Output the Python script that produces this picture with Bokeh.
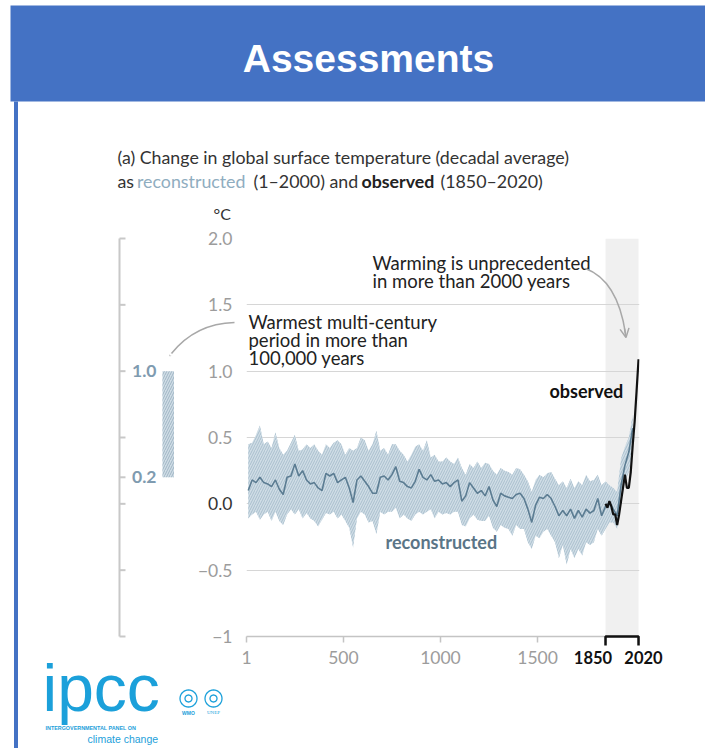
import math
from bokeh.plotting import figure
from bokeh.models import Range1d, FixedTicker, Arrow, OpenHead
from bokeh.core.properties import value
from bokeh.embed import file_html
from bokeh.resources import INLINE

# ---------------- data ----------------
recon_years = list(range(10, 1991, 20))
recon_median = [
    0.10, 0.18, 0.16, 0.20, 0.16, 0.15, 0.13, 0.18, 0.11, 0.07, 0.20, 0.21, 0.30, 0.21, 0.25, 0.18, 0.15,
    0.16, 0.12, 0.10, 0.23, 0.21, 0.23, 0.16, 0.18, 0.20, 0.12, 0.01, 0.18, 0.21, 0.17, 0.13, 0.08,
    0.08, 0.20, 0.21, 0.18, 0.22, 0.28, 0.17, 0.16, 0.13, 0.12, 0.17, 0.26, 0.20, 0.18, 0.22, 0.17, 0.18,
    0.15, 0.16, 0.13, 0.16, 0.18, 0.02, 0.06, 0.16, 0.12, 0.08, 0.10, 0.06, 0.13, 0.03, -0.02, 0.08,
    0.06,
    0.05, 0.04, 0.07, 0.08, 0.04, -0.04, -0.14, -0.01, 0.05, 0.04, 0.07, 0.04, -0.02, -0.09, -0.05, -0.09,
    -0.04, -0.11, -0.05, -0.10, -0.04, -0.07, -0.05, 0.04, -0.09, -0.02, 0.01, -0.04, -0.09, 0.14, 0.29,
    0.39, 0.57,
]
recon_high = [
    0.45, 0.46, 0.52, 0.59, 0.45, 0.47, 0.42, 0.54, 0.42, 0.37, 0.40, 0.46, 0.52, 0.40, 0.41, 0.45, 0.42,
    0.45, 0.40, 0.37, 0.45, 0.42, 0.46, 0.48, 0.45, 0.37, 0.42, 0.40, 0.42, 0.50, 0.48, 0.40, 0.45,
    0.55, 0.40, 0.42, 0.37, 0.45, 0.45, 0.40, 0.37, 0.32, 0.37, 0.43, 0.45, 0.40, 0.48, 0.35, 0.37, 0.32,
    0.32, 0.35, 0.32, 0.30, 0.35, 0.27, 0.22, 0.30, 0.27, 0.32, 0.27, 0.31, 0.30, 0.25, 0.22, 0.27,
    0.25,
    0.24, 0.22, 0.27, 0.26, 0.22, 0.17, 0.09, 0.18, 0.22, 0.20, 0.23, 0.24, 0.19, 0.14, 0.17, 0.12,
    0.19, 0.12, 0.17, 0.14, 0.22, 0.17, 0.18, 0.22, 0.14, 0.17, 0.14, 0.12, 0.09, 0.34, 0.43, 0.50, 0.67,
]
recon_low = [
    -0.11, -0.08, -0.06, -0.12, -0.08, -0.06, -0.13, -0.06, -0.13, -0.16, -0.08, -0.04, -0.08, -0.04,
    -0.11, -0.07, -0.11, -0.13, -0.17, -0.12, -0.07, -0.08, -0.06, -0.11, -0.08, -0.13, -0.18, -0.33,
    -0.11, -0.06, -0.08, -0.14, -0.13,
    -0.23, -0.06, -0.08, -0.06, -0.06, -0.03, -0.11, -0.08, -0.11, -0.13, -0.08, -0.06, -0.08, -0.06,
    -0.04, -0.11, -0.06, -0.08, -0.07, -0.08, -0.06, -0.06, -0.16, -0.17, -0.11, -0.08, -0.12, -0.13,
    -0.13, -0.09, -0.18, -0.21, -0.16,
    -0.18,
    -0.19, -0.24, -0.16, -0.19, -0.19, -0.29, -0.34, -0.24, -0.26, -0.21, -0.19, -0.24, -0.29, -0.41,
    -0.31, -0.46, -0.34, -0.41, -0.34, -0.39, -0.29, -0.31, -0.29, -0.19, -0.24, -0.19, -0.14, -0.14,
    -0.19, 0.02, 0.17, 0.24, 0.39,
]
obs_years = [1850, 1860, 1870, 1880, 1890, 1900, 1910, 1920, 1930, 1940, 1950, 1960, 1970, 1980, 1990,
             2000, 2010, 2020]
obs_values = [0.00, -0.03, 0.02, -0.02, -0.08, -0.08, -0.16, -0.08, 0.02, 0.12, 0.22, 0.12, 0.12, 0.24,
              0.44, 0.62, 0.85, 1.09]

y_ticks = [-1, -0.5, 0, 0.5, 1, 1.5, 2]
y_tick_labels = ["\u22121", "\u22120.5", "0.0", "0.5", "1.0", "1.5", "2.0"]
x_ticks = [1, 500, 1000, 1500, 1850, 2020]
x_tick_labels = ["1", "500", "1000", "1500", "1850", "2020"]
observed_period = [1850, 2020]
warmest_period = [0.2, 1.0]
side_ticks = [2, 1.5, 1, 0.5, 0.2, 0, -0.5, -1]

# ---------------- figure ----------------
W, H = 705, 748
FL, FT = 246, 238
fw, fh = 393, 398
FR, FB = W - FL - fw, H - FT - fh
XMIN, XMAX, YMIN, YMAX = 1, 2025, -1, 2
p = figure(width=W, height=H, x_range=Range1d(XMIN, XMAX), y_range=Range1d(YMIN, YMAX),
           output_backend="svg", toolbar_location=None,
           min_border_left=FL, min_border_right=FR, min_border_top=FT, min_border_bottom=FB)
p.outline_line_color = None
p.background_fill_color = "white"
p.border_fill_color = "white"


def X(px):  # canvas pixel -> data x
    return XMIN + (px - FL) * (XMAX - XMIN) / fw


def Y(py):  # canvas pixel -> data y
    return YMIN + (FT + fh - py) * (YMAX - YMIN) / fh


def txt(x, y, s, size, color, font="Lato", style="normal", align="left", baseline="middle"):
    p.text(x=[x], y=[y], text=[s], text_font=value(font), text_font_size=f"{size}px",
           text_color=color, text_font_style=style, text_align=align, text_baseline=baseline,
           level="overlay")


# grid / axes
p.xgrid.visible = False
p.ygrid.ticker = FixedTicker(ticks=y_ticks)
p.ygrid.grid_line_color = "#d6d6d6"
p.ygrid.grid_line_width = 1.2

ya = p.yaxis[0]
ya.ticker = FixedTicker(ticks=y_ticks)
ya.major_label_overrides = {float(t): (l if l != "0.0" else "") for t, l in zip(y_ticks, y_tick_labels)}
ya.axis_line_color = None
ya.major_tick_line_color = None
ya.minor_tick_line_color = None
ya.major_tick_out = 0
ya.major_tick_in = 0
ya.major_label_standoff = 14
ya.major_label_text_font = "Lato"
ya.major_label_text_font_size = "17.5px"
ya.major_label_text_color = "#9c9c9c"

xa = p.xaxis[0]
xa.ticker = FixedTicker(ticks=x_ticks)
xa.major_label_overrides = {float(t): (l if t not in observed_period else "") for t, l in zip(x_ticks, x_tick_labels)}
xa.axis_line_color = "#c4c4c4"
xa.axis_line_width = 1.5
xa.major_tick_line_color = "#c4c4c4"
xa.major_tick_line_width = 1.5
xa.minor_tick_line_color = None
xa.major_tick_out = 6
xa.major_tick_in = 0
xa.major_label_standoff = 8
xa.major_label_text_font = "Lato"
xa.major_label_text_font_size = "17.5px"
xa.major_label_text_color = "#9c9c9c"

# observed-period shading
p.quad(left=[observed_period[0]], right=[observed_period[1]], bottom=[YMIN], top=[YMAX],
       fill_color="#f0f0f0", line_color=None, level="image")

# reconstructed band + median
p.varea(x=recon_years, y1=recon_low, y2=recon_high, fill_color="#d0dde6",
        hatch_pattern="/", hatch_color="#a9bfcd", hatch_scale=5, hatch_weight=1)
p.line(recon_years, recon_median, line_color="#5b7c92", line_width=1.6)
# observed
p.line(obs_years, obs_values, line_color="#111111", line_width=2.2)

# bracket below 1850-2020
p.line([observed_period[0], observed_period[0], observed_period[1], observed_period[1]],
       [Y(645), YMIN, YMIN, Y(645)], line_color="#111111", line_width=2.5, level="overlay")
txt(X(592.5), Y(657), x_tick_labels[x_ticks.index(observed_period[0])], 16.5, "#111111", style="bold", align="center")
txt(X(643), Y(657), x_tick_labels[x_ticks.index(observed_period[1])], 16.5, "#111111", style="bold", align="center")
txt(X(232), 0, "0.0", 17.5, "#333333", align="right")

# ---- header ----
p.quad(left=[X(10)], right=[X(720)], top=[Y(5)], bottom=[Y(101)], fill_color="#4472c4",
       line_color=None, level="overlay")
p.quad(left=[X(13.5)], right=[X(17.5)], top=[Y(101)], bottom=[Y(760)], fill_color="#4472c4",
       line_color=None, level="overlay")
txt(X(368), Y(57.5), "Assessments", 39, "white", font="Liberation Sans", style="bold", align="center")

# subtitle
fs = 17.8
txt(X(117), Y(156), "(a) Change in global surface temperature (decadal average)", fs, "#333333")
txt(X(117), Y(180), "as", fs, "#333333")
txt(X(136.5), Y(180), "reconstructed", fs, "#8fadc0")
txt(X(253), Y(180), "(1\u20132000) and", fs, "#333333")
txt(X(361), Y(180), "observed", fs, "#222222", style="bold")
txt(X(440), Y(180), "(1850\u20132020)", fs, "#333333")
txt(X(213), Y(213), "\u00b0C", 16, "#333333")

# side scale
p.line([X(119), X(119)], [side_ticks[-1], side_ticks[0]], line_color="#c8c8c8", line_width=2, level="overlay")
p.segment(x0=[X(119)] * len(side_ticks), y0=side_ticks, x1=[X(125)] * len(side_ticks), y1=side_ticks,
          line_color="#c8c8c8", line_width=2, level="overlay")
p.quad(left=[X(162)], right=[X(173.5)], bottom=[warmest_period[0]], top=[warmest_period[1]],
       fill_color="#d0dde6", line_color=None, hatch_pattern="/", hatch_color="#9fb5c4",
       hatch_scale=5, hatch_weight=1, level="overlay")
for v in warmest_period:
    txt(X(156), v, f"{v:.1f}", 17.5, "#7f9bb0", style="bold", align="right")

# annotations
for i, s in enumerate(["Warmest multi-century", "period in more than", "100,000 years"]):
    txt(X(248), Y(321 + 18 * i), s, 18.5, "#222222")
for i, s in enumerate(["Warming is unprecedented", "in more than 2000 years"]):
    txt(X(372), Y(262 + 18 * i), s, 18.5, "#222222")
txt(X(385), Y(541), "reconstructed", 18, "#5a7587", style="bold")
txt(X(549), Y(390), "observed", 18, "#111111", style="bold")

ac = "#a8a8a8"
p.quadratic(x0=[X(234)], y0=[Y(322)], x1=[X(171)], y1=[Y(353)], cx=[X(195)], cy=[Y(323)],
            line_color=ac, line_width=1.5, level="overlay")
p.add_layout(Arrow(end=OpenHead(size=9, line_color=ac, line_width=1.5), line_color=ac, line_width=1.5,
                   x_start=X(175), y_start=Y(348.5), x_end=X(169), y_end=Y(355.5)))
p.quadratic(x0=[X(585)], y0=[Y(268)], x1=[X(625)], y1=[Y(333)], cx=[X(617)], cy=[Y(280)],
            line_color=ac, line_width=1.5, level="overlay")
p.add_layout(Arrow(end=OpenHead(size=9, line_color=ac, line_width=1.5), line_color=ac, line_width=1.5,
                   x_start=X(624), y_start=Y(328), x_end=X(625.5), y_end=Y(337)))

# logo
lc = "#1ba0da"
txt(X(42), Y(687), "ipcc", 66, lc, font="Liberation Sans")
txt(X(45), Y(727.5), "INTERGOVERNMENTAL PANEL ON", 5.4, lc, font="Liberation Sans", style="bold")
txt(X(87), Y(738), "climate change", 10.5, lc, font="Liberation Sans")
ring_xs, ring_ys = [], []
for cx in (188, 213):
    for r in (8.5, 3.5):
        ring_xs.append([X(cx + r * math.cos(k * math.pi / 16)) for k in range(33)])
        ring_ys.append([Y(698 + r * math.sin(k * math.pi / 16)) for k in range(33)])
p.multi_line(xs=ring_xs, ys=ring_ys, line_color=lc, line_width=1.3, level="overlay")
txt(X(188), Y(712), "WMO", 5, lc, font="Liberation Sans", style="bold", align="center")
txt(X(213), Y(712), "UNEP", 5, lc, font="Liberation Serif", align="center")

open("out.html", "w").write(file_html(p, INLINE))
